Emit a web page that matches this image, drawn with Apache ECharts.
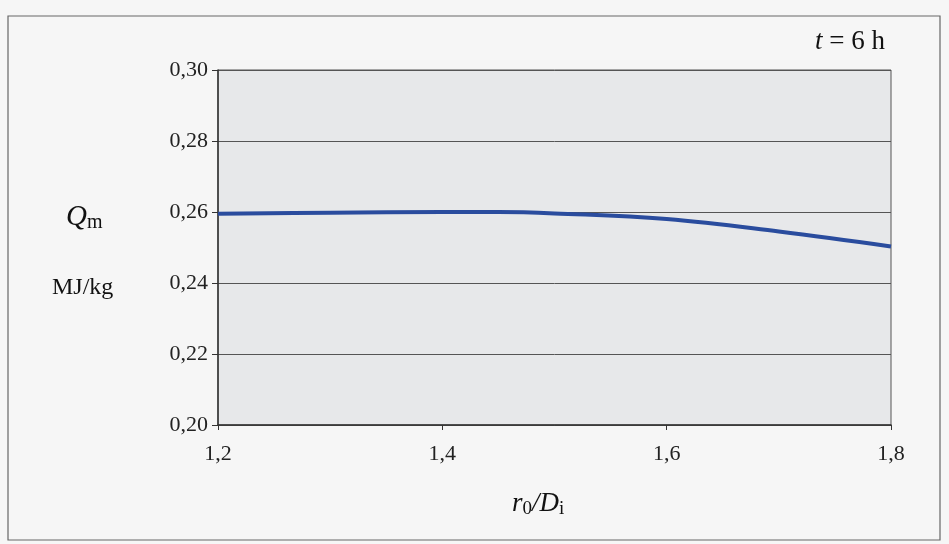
<!DOCTYPE html>
<html>
<head>
<meta charset="utf-8">
<script src="https://cdn.jsdelivr.net/npm/echarts@6/dist/echarts.min.js"></script>
<style>html,body{margin:0;padding:0;background:#f6f6f6}#c{width:949px;height:544px}</style>
</head>
<body>
<div id="c"></div>
<script>
const ratio = [1.2, 1.3, 1.4, 1.45, 1.5, 1.6, 1.7, 1.8];
const qm = [0.2595, 0.2598, 0.2600, 0.2600, 0.2596, 0.2580, 0.2545, 0.2503];
const yTicks = [0.20, 0.22, 0.24, 0.26, 0.28, 0.30];
const xTicks = [1.2, 1.4, 1.6, 1.8];

const serif = '"Liberation Serif", "DejaVu Serif", serif';
const chart = echarts.init(document.getElementById('c'));
chart.setOption({
  backgroundColor: '#f6f6f6',
  animation: false,
  grid: {left: 218, right: 58, top: 70, bottom: 119, show: true,
         backgroundColor: '#e7e8ea', borderColor: '#555', borderWidth: 1},
  xAxis: {
    type: 'value', min: 1.2, max: 1.8, interval: 0.2,
    axisLine: {show: true, onZero: false, lineStyle: {color: '#333', width: 1.5}},
    axisTick: {show: true, length: 5, lineStyle: {color: '#333'}},
    splitLine: {show: false},
    axisLabel: {fontFamily: serif, fontSize: 22, color: '#222', margin: 18,
      formatter: v => v.toFixed(1).replace('.', ',')}
  },
  yAxis: {
    type: 'value', min: 0.2, max: 0.3, interval: 0.02,
    axisLine: {show: true, lineStyle: {color: '#333', width: 1.5}},
    axisTick: {show: true, length: 6, lineStyle: {color: '#333'}},
    splitLine: {show: true, lineStyle: {color: '#555', width: 1}},
    axisLabel: {fontFamily: serif, fontSize: 22, color: '#222', margin: 10,
      formatter: v => v.toFixed(2).replace('.', ',')}
  },
  series: [{
    type: 'line', smooth: 0.4, symbol: 'none',
    data: ratio.map((r, i) => [r, qm[i]]),
    lineStyle: {color: '#2a4c9e', width: 4}
  }],
  graphic: [
    {type: 'rect', shape: {x: 8, y: 16, width: 932, height: 524},
     style: {fill: 'none', stroke: '#666', lineWidth: 1.2}, silent: true},
    {type: 'text', left: 815, top: 28, style: {
      text: '{i|t} = 6 h', fontFamily: serif, fontSize: 27, fill: '#111',
      rich: {i: {fontStyle: 'italic', fontFamily: serif, fontSize: 27}}}},
    {type: 'text', left: 66, top: 203, style: {
      text: '{q|Q}{s|m}', fill: '#111',
      rich: {q: {fontStyle: 'italic', fontFamily: serif, fontSize: 29, fill: '#111'},
             s: {fontFamily: serif, fontSize: 20, fill: '#111', padding: [10,0,0,0]}}}},
    {type: 'text', left: 52, top: 276, style: {
      text: 'MJ/kg', fontFamily: serif, fontSize: 24, fill: '#111'}},
    {type: 'text', left: 512, top: 490, style: {
      text: '{i|r}{s|0}{i|/D}{s|i}', fill: '#111',
      rich: {i: {fontStyle: 'italic', fontFamily: serif, fontSize: 27, fill: '#111'},
             s: {fontFamily: serif, fontSize: 19, fill: '#111', padding: [12,0,0,0]}}}}
  ]
});
</script>
</body>
</html>
